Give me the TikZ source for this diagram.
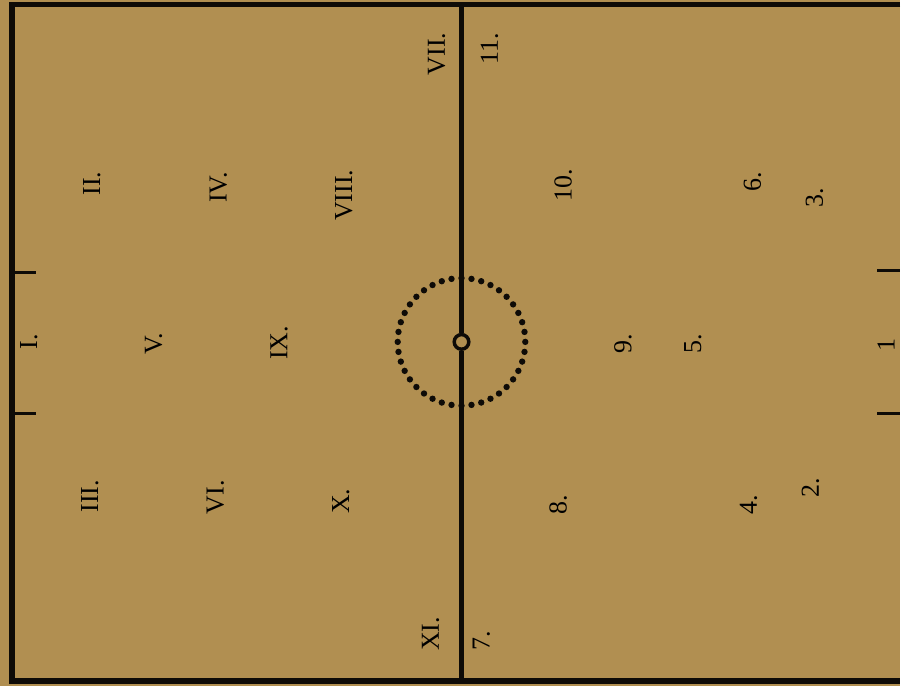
\documentclass[tikz,border=0pt]{standalone}
\usepackage{fontspec}
\setmainfont{Liberation Serif}
\usepackage{xcolor}

\begin{document}
\begin{tikzpicture}[
  x=0.75pt, y=-0.75pt,
  player/.style={rotate=90, inner sep=0pt, font=\fontsize{19.5}{21}\selectfont},
  boundary/.style={line width=4.4pt, line join=miter},
  halfway/.style={line width=3.6pt},
  goalmark/.style={line width=2.4pt},
]
\definecolor{fieldPaper}{HTML}{B18F51}
\definecolor{fieldInk}{HTML}{0E0B07}

% paper, which also fixes the bounding box
\fill[fieldPaper] (0,0) rectangle (903,688);

% field outline: the right side runs off the sheet
\coordinate (topR) at (903,4.5);
\coordinate (topL) at (12,4.5);
\coordinate (botL) at (12,683);
\coordinate (botR) at (903,683);
\draw[boundary, fieldInk] (topR) -- (topL) -- (botL) -- (botR);

% halfway line through the kick-off mark
\node[circle, draw=fieldInk, line width=2.6pt, minimum size=11pt, inner sep=0pt]
  (spot) at (463,343) {};
\coordinate (midTop) at (463,4.5);
\coordinate (midBot) at (463,683);
\draw[halfway, fieldInk] (midTop) -- (spot.north);
\draw[halfway, fieldInk] (spot.south) -- (midBot);
\draw[fieldInk, line width=4.8pt, line cap=round, dash pattern=on 0pt off 7.54pt]
  (spot.center) circle (64);

% goal marks on both ends
\coordinate (lgA) at (12,273);  \coordinate (lgA') at (36,273);
\coordinate (lgB) at (12,415);  \coordinate (lgB') at (36,415);
\coordinate (rgA) at (880,271); \coordinate (rgA') at (903,271);
\coordinate (rgB) at (880,415); \coordinate (rgB') at (903,415);
\draw[goalmark, fieldInk] (lgA) -- (lgA');
\draw[goalmark, fieldInk] (lgB) -- (lgB');
\draw[goalmark, fieldInk] (rgA) -- (rgA');
\draw[goalmark, fieldInk] (rgB) -- (rgB');

% side in Roman numerals
\node[player] (r1) at (29,343) {I.};
\node[player] (r2) at (92,184) {II.};
\node[player] (r3) at (90,498) {III.};
\node[player] (r4) at (219,188) {IV.};
\node[player] (r5) at (154,345) {V.};
\node[player] (r6) at (216,499) {VI.};
\node[player] (r7) at (438,54) {VII.};
\node[player] (r8) at (345,196) {VIII.};
\node[player] (r9) at (280,344) {IX.};
\node[player] (r10) at (342,503) {X.};
\node[player] (r11) at (432,636) {XI.};

% side in Arabic numerals
\node[player] (a1) at (889,346) {1};
\node[player] (a2) at (813,489) {2.};
\node[player] (a3) at (817,198) {3.};
\node[player] (a4) at (751,506) {4.};
\node[player] (a5) at (695,345) {5.};
\node[player] (a6) at (755,182) {6.};
\node[player] (a7) at (483,643) {7.};
\node[player] (a8) at (560,506) {8.};
\node[player] (a9) at (625,345) {9.};
\node[player] (a10) at (565,186) {10.};
\node[player] (a11) at (491,49) {11.};
\end{tikzpicture}
\end{document}
